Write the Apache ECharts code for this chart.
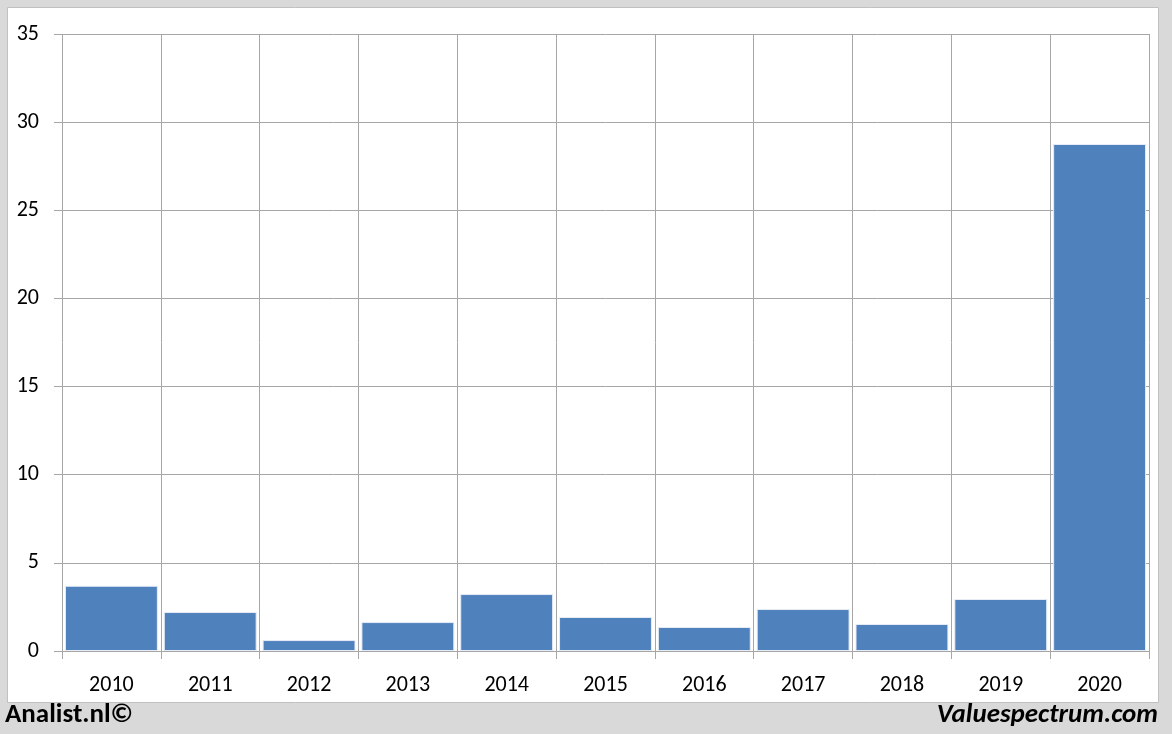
<!DOCTYPE html>
<html><head><meta charset="utf-8">
<script src="https://cdn.jsdelivr.net/npm/echarts@6/dist/echarts.min.js"></script>
<style>html,body{margin:0;padding:0;background:#d9d9d9;}#c{width:1172px;height:734px;}</style>
</head><body><div id="c"></div>
<script>
const categories = ['2010','2011','2012','2013','2014','2015','2016','2017','2018','2019','2020'];
const values = [3.70, 2.21, 0.62, 1.64, 3.23, 1.93, 1.36, 2.38, 1.53, 2.95, 28.76];
const yTicks = [0, 5, 10, 15, 20, 25, 30, 35];
const footerLeft = 'Analist.nl©';
const footerRight = 'Valuespectrum.com';

const chart = echarts.init(document.getElementById('c'), null, {renderer:'canvas'});
const font = 'Calibri, Carlito, Lato, "Open Sans", "Liberation Sans", sans-serif';
chart.setOption({
  backgroundColor: '#d9d9d9',
  animation: false,
  graphic: [
    {type:'rect', z:-10, shape:{x:7.5,y:7.5,width:1151,height:695}, style:{fill:'#ffffff', stroke:'#c0c0c0', lineWidth:1}},
    {type:'text', left:5, top:702, style:{text:footerLeft, font:'bold 27px ' + font, fill:'#000'}},
    {type:'text', right:14, top:702, style:{text:footerRight, font:'italic bold 27px ' + font, fill:'#000'}}
  ],
  grid: {left:62, right:23, top:34, bottom:83, containLabel:false},
  xAxis: {
    type:'category', data: categories, boundaryGap:true,
    axisLine:{show:true, lineStyle:{color:'#a6a6a6', width:1}},
    axisTick:{show:true, length:8, lineStyle:{color:'#a6a6a6'}},
    axisLabel:{color:'#000', fontSize:22, fontFamily:font, margin:23},
    splitLine:{show:true, lineStyle:{color:'#a6a6a6', width:1}}
  },
  yAxis: {
    type:'value', min:0, max:35, interval:5,
    axisLine:{show:false},
    axisTick:{show:true, length:8, lineStyle:{color:'#a6a6a6'}},
    axisLabel:{color:'#000', fontSize:22, fontFamily:font, margin:23,
      formatter: v => yTicks.includes(v) ? String(v) : ''},
    splitLine:{show:true, lineStyle:{color:'#a6a6a6', width:1}}
  },
  series: [{
    type:'bar', data: values, barCategoryGap:'6%',
    itemStyle:{color:'#4f81bd', borderColor:'#e6ecf5', borderWidth:1}
  }]
});
</script></body></html>
